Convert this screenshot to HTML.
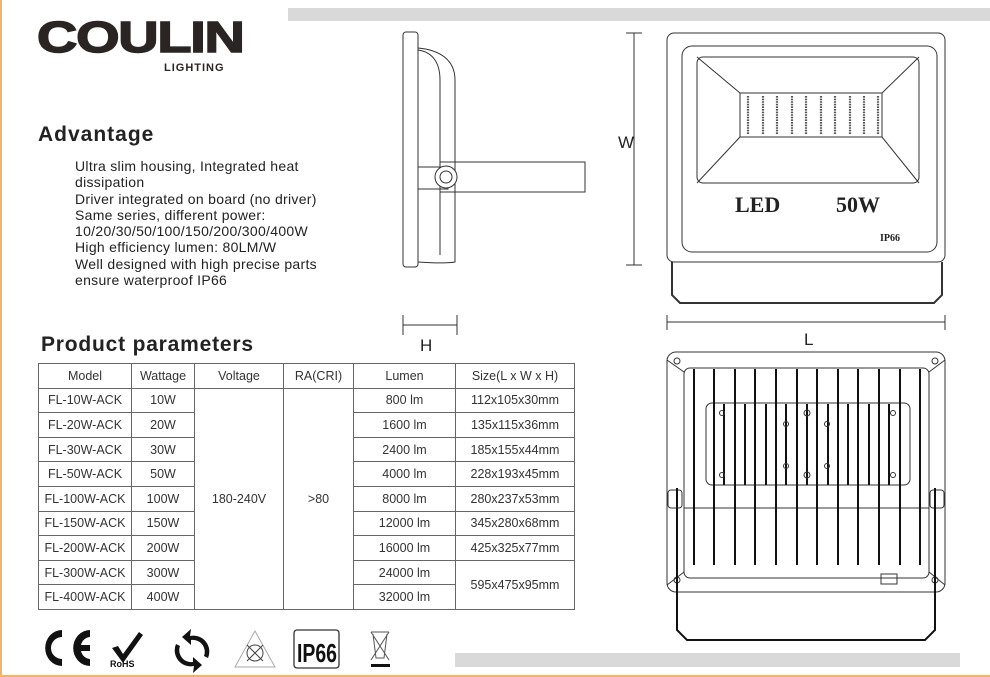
<!DOCTYPE html>
<html><head><meta charset="utf-8"><style>
html,body{margin:0;padding:0}
body{width:990px;height:677px;position:relative;background:#fff;overflow:hidden;font-family:"Liberation Sans",sans-serif;color:#222}
.a{position:absolute;white-space:nowrap}
table{position:absolute;left:38px;top:363px;border-collapse:collapse;font-size:12.5px;color:#333}
td{border:1.3px solid #666;text-align:center;padding:0;height:23.6px}
</style></head><body>
<div style="position:absolute;left:0;top:0;width:988px;height:675px;border-left:2px solid #f2b36b;border-bottom:2px solid #f2b36b"></div>
<div class="a" style="left:288px;top:8px;width:702px;height:13px;background:#d9d9d9"></div>
<div class="a" style="left:455px;top:653px;width:505px;height:14px;background:#d9d9d9"></div>

<div class="a" style="left:37px;top:16px;font-size:44px;font-weight:900;letter-spacing:-1px;transform:scaleX(1.27);transform-origin:left top;color:#2a2522;line-height:44px;-webkit-text-stroke:1.5px #2a2522">COULIN</div>
<div class="a" style="left:164px;top:62px;font-size:11px;font-weight:bold;letter-spacing:1px;color:#2a2522">LIGHTING</div>

<div class="a" style="left:38px;top:123px;font-size:21px;font-weight:bold;letter-spacing:1px">Advantage</div>
<div class="a" style="left:75px;top:158px;font-size:14px;line-height:16.3px;letter-spacing:0.3px">Ultra slim housing, Integrated heat<br>dissipation<br>Driver integrated on board (no driver)<br>Same series, different power:<br>10/20/30/50/100/150/200/300/400W<br>High efficiency lumen: 80LM/W<br>Well designed with high precise parts<br>ensure waterproof IP66</div>

<div class="a" style="left:41px;top:333px;font-size:21px;font-weight:bold;letter-spacing:0.8px">Product parameters</div>

<table>
<tr><td style="width:92px">Model</td><td style="width:62px">Wattage</td><td style="width:88px">Voltage</td><td style="width:69px">RA(CRI)</td><td style="width:101px">Lumen</td><td style="width:118px">Size(L x W x H)</td></tr>
<tr><td>FL-10W-ACK</td><td>10W</td><td rowspan="9">180-240V</td><td rowspan="9">&gt;80</td><td>800 lm</td><td>112x105x30mm</td></tr>
<tr><td>FL-20W-ACK</td><td>20W</td><td>1600 lm</td><td>135x115x36mm</td></tr>
<tr><td>FL-30W-ACK</td><td>30W</td><td>2400 lm</td><td>185x155x44mm</td></tr>
<tr><td>FL-50W-ACK</td><td>50W</td><td>4000 lm</td><td>228x193x45mm</td></tr>
<tr><td>FL-100W-ACK</td><td>100W</td><td>8000 lm</td><td>280x237x53mm</td></tr>
<tr><td>FL-150W-ACK</td><td>150W</td><td>12000 lm</td><td>345x280x68mm</td></tr>
<tr><td>FL-200W-ACK</td><td>200W</td><td>16000 lm</td><td>425x325x77mm</td></tr>
<tr><td>FL-300W-ACK</td><td>300W</td><td>24000 lm</td><td rowspan="2">595x475x95mm</td></tr>
<tr><td>FL-400W-ACK</td><td>400W</td><td>32000 lm</td></tr>
</table>

<svg class="a" style="left:0;top:0" width="990" height="677" viewBox="0 0 990 677" fill="none" stroke="#333" stroke-width="1">
<rect x="403" y="32" width="15" height="235" rx="3"/>
<path d="M418 48 C440 50 455 60 455 80 V262 C455 262 445 264 418 262"/>
<path d="M418 50 C432 52 440 62 440 80 V255"/>
<rect x="418" y="167" width="30" height="22"/>
<rect x="440" y="162" width="145" height="30"/>
<circle cx="446" cy="177" r="11" fill="#fff"/>
<circle cx="446" cy="177" r="6"/>
<path d="M403 315 V335 M457 315 V335 M403 325 H457"/>
<path d="M626 33 H642 M626 265 H642 M634 33 V265"/>
<rect x="667" y="33" width="278" height="229" rx="7"/>
<rect x="682" y="46" width="255" height="206" rx="10"/>
<rect x="697" y="57" width="222" height="126" rx="6"/>
<path d="M697 57 L740 93 M919 57 L882 93 M697 183 L740 137 M919 183 L882 137"/>
<rect x="740" y="93" width="142" height="44"/>
<g stroke-width="2.2" stroke-dasharray="1.6 1" stroke="#555">
<path d="M748 96V134M763 96V134M777 96V134M792 96V134M806 96V134M821 96V134M835 96V134M850 96V134M864 96V134M878 96V134"/>
</g>
<path d="M672 262 V295 L680 303 H934 L942 295 V262" stroke-width="2"/>
<path d="M667 315 V330 M945 315 V330 M667 322 H945"/>
<rect x="667" y="352" width="278" height="240" rx="9"/>
<rect x="684" y="368" width="245" height="210" rx="6"/>
<path d="M667 360 L684 372 M945 360 L929 372 M667 585 L684 572 M945 585 L929 572"/>
<circle cx="677" cy="361" r="3"/><circle cx="935" cy="361" r="3"/><circle cx="677" cy="580" r="3"/><circle cx="935" cy="580" r="3"/>
<rect x="706" y="403" width="204" height="82" rx="6"/>
<path d="M684 508 H929"/>
<g stroke-width="2" stroke="#111">
<path d="M694 369V565M714 369V565M735 369V565M755 369V565M776 369V565M797 369V565M817 369V565M838 369V565M858 369V565M879 369V565M900 369V565M920 369V565"/>
<path d="M724 404V485M745 404V485M766 404V485M786 404V485M807 404V485M828 404V485M848 404V485M869 404V485M889 404V485"/>
</g>
<circle cx="722" cy="413" r="2.5"/><circle cx="722" cy="475" r="2.5"/><circle cx="893" cy="413" r="2.5"/><circle cx="893" cy="475" r="2.5"/>
<circle cx="786" cy="424" r="2.5"/><circle cx="827" cy="424" r="2.5"/><circle cx="786" cy="466" r="2.5"/><circle cx="827" cy="466" r="2.5"/>
<circle cx="807" cy="413" r="3"/><circle cx="807" cy="475" r="3"/>
<rect x="881" y="574" width="16" height="10"/>
<rect x="668" y="490" width="14" height="18" rx="3"/><rect x="930" y="490" width="14" height="18" rx="3"/>
<path d="M677 488 V630 L687 640 H925 L935 630 V488" stroke-width="2" stroke="#111"/>
<g fill="#111" stroke="none">
<path d="M62 630 a14 15 0 1 0 0 36 v-7 a11 11 0 1 1 0 -22 z"/>
<path d="M90 630 a14 15 0 1 0 0 36 v-7 a10 10 0 0 1 -9 -8 h9 v-6 h-9 a10 10 0 0 1 9 -8 z"/>
<path d="M112 648 l6 -2 l5 8 l16 -22 l4 3 l-20 28 z"/>
<path d="M190 636 a16 16 0 0 1 18 22 l-4 -2 a12 12 0 0 0 -13 -16 v5 l-9 -8 l9 -8 z M194 666 a16 16 0 0 1 -18 -22 l4 2 a12 12 0 0 0 13 16 v-5 l9 8 l-9 8 z"/>
</g>
<text x="110" y="667" font-family="Liberation Sans" font-size="9" font-weight="bold" fill="#111" stroke="none">RoHS</text>
<path d="M255 631 L275 667 H235 Z" stroke="#aaa"/>
<circle cx="255" cy="653" r="8" stroke="#444"/><path d="M247 645 L263 661 M263 645 L247 661" stroke="#444"/>
<rect x="294" y="630" width="45" height="38" rx="3" stroke-width="1.3"/>
<text x="297" y="662" font-family="Liberation Sans" font-size="26" font-weight="bold" fill="#111" stroke="none" textLength="40" lengthAdjust="spacingAndGlyphs">IP66</text>
<path d="M371 632 H389 M373 634 L376 658 H384 L387 634 M371 632 L389 660 M389 632 L371 660" stroke="#555"/>
<rect x="371" y="664" width="19" height="3" fill="#111" stroke="none"/>
</svg>
<div class="a" style="left:618px;top:133px;font-size:17px">W</div>
<div class="a" style="left:420px;top:336px;font-size:17px">H</div>
<div class="a" style="left:804px;top:330px;font-size:17px">L</div>
<div class="a" style="left:735px;top:192px;font-family:'Liberation Serif',serif;font-weight:bold;font-size:22px">LED</div>
<div class="a" style="left:836px;top:192px;font-family:'Liberation Serif',serif;font-weight:bold;font-size:22px">50W</div>
<div class="a" style="left:880px;top:233px;font-family:'Liberation Serif',serif;font-weight:bold;font-size:10px">IP66</div>
</body></html>
